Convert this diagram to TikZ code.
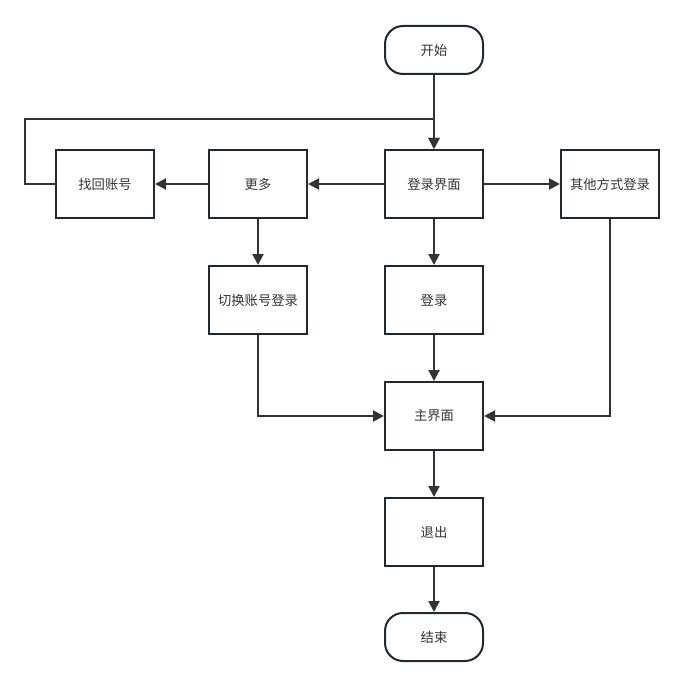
\documentclass[tikz,border=0pt]{standalone}
\usepackage{fontspec}
\newfontfamily\cjk{Noto Sans CJK SC}
\usetikzlibrary{arrows.meta, positioning, calc}
\definecolor{boxc}{HTML}{23272E}
\definecolor{linec}{HTML}{333333}
\definecolor{txtc}{HTML}{333333}

\begin{document}
\begin{tikzpicture}[
    x=1pt, y=1pt,
    font=\cjk\fontsize{13.3}{15}\selectfont,
    node distance=46pt and 76pt,
    nd/.style={
      draw=boxc, line width=2pt, text=txtc,
      minimum width=98pt, minimum height=68pt,
      align=center, inner sep=2pt
    },
    term/.style={nd, rounded corners=18pt, minimum height=48pt},
    arr/.style={-{Triangle[length=11pt,width=11pt]}, line width=2pt, draw=linec}
  ]
  \useasboundingbox (0,0) rectangle (685,-687);

  \node[term] at (434,-50)            (start)  {开始};
  \node[nd, below=74pt of start]      (login)  {登录界面};
  \node[nd, left=of login]            (more)   {更多};
  \node[nd, left=53pt of more]        (find)   {找回账号};
  \node[nd, right=of login]           (other)  {其他方式登录};
  \node[nd, below=of more]            (switch) {切换账号登录};
  \node[nd, below=of login]           (signin) {登录};
  \node[nd, below=of signin]          (main)   {主界面};
  \node[nd, below=of main]            (quit)   {退出};
  \node[term, below=45pt of quit]     (stop)   {结束};

  \coordinate (loop) at ($(login.north)+(0,30)$);

  \draw[arr] (start) -- (login);
  \draw[arr] (login) -- (more);
  \draw[arr] (more) -- (find);
  \draw[arr] (find.west) -- ++(-30,0) |- (loop) -- (login.north);
  \draw[arr] (login) -- (other);
  \draw[arr] (more) -- (switch);
  \draw[arr] (login) -- (signin);
  \draw[arr] (signin) -- (main);
  \draw[arr] (switch.south) |- (main.west);
  \draw[arr] (other.south) |- (main.east);
  \draw[arr] (main) -- (quit);
  \draw[arr] (quit) -- (stop);
\end{tikzpicture}
\end{document}
